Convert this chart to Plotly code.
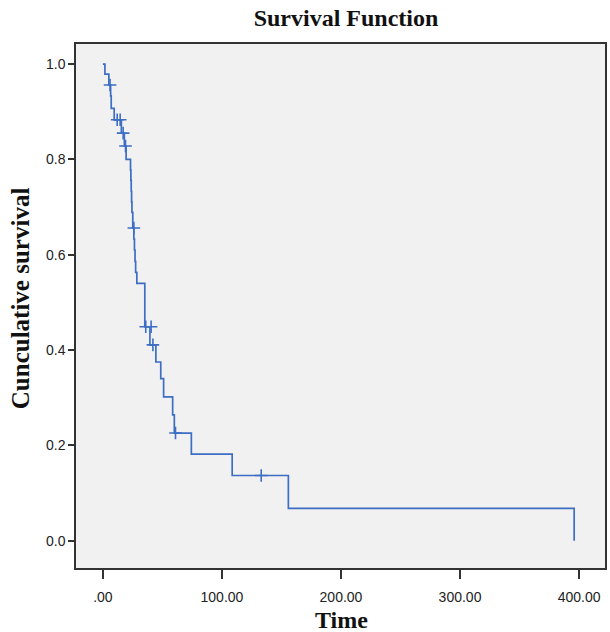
import plotly.graph_objects as go

# Kaplan-Meier step curve (time, survival after step)
step_time = [0, 1.7, 5.0, 6.5, 7.0, 9.5, 15.5, 18.0, 19.5, 23.2, 23.5, 23.8, 24.1, 24.4,
             25.1, 26.0, 26.5, 27.0, 27.5, 28.5, 35.2, 39.5, 44.5, 48.6, 51.0, 58.6, 60.0,
             74.3, 108.6, 155.8, 395.9]
step_surv = [1.0, 0.979, 0.956, 0.933, 0.907, 0.883, 0.855, 0.828, 0.80, 0.778, 0.756, 0.733,
             0.711, 0.689, 0.656, 0.633, 0.610, 0.586, 0.563, 0.540, 0.449, 0.411, 0.375,
             0.340, 0.302, 0.264, 0.226, 0.182, 0.137, 0.068, 0.0]

# Censored observations
cens_time = [6.0, 12.0, 14.5, 17.0, 19.0, 26.0, 36.0, 40.5, 42.0, 61.0, 133.0]
cens_surv = [0.956, 0.883, 0.883, 0.855, 0.828, 0.656, 0.449, 0.449, 0.411, 0.226, 0.137]

x_ticks = [0, 100, 200, 300, 400]
x_labels = [".00", "100.00", "200.00", "300.00", "400.00"]
y_ticks = [0.0, 0.2, 0.4, 0.6, 0.8, 1.0]
y_labels = ["0.0", "0.2", "0.4", "0.6", "0.8", "1.0"]

blue = "#3d6ec4"

fig = go.Figure()
fig.add_trace(go.Scatter(x=step_time, y=step_surv, mode="lines",
                         line=dict(color=blue, width=1.7, shape="hv"),
                         showlegend=False, hoverinfo="skip"))
fig.add_trace(go.Scatter(x=cens_time, y=cens_surv, mode="markers",
                         marker=dict(symbol="cross-thin", size=9,
                                     line=dict(color=blue, width=1.6)),
                         showlegend=False, hoverinfo="skip"))

W, H = 610, 632
L, R, T, B = 76, 3, 44, 64
pw, ph = W - L - R, H - T - B

fig.update_layout(
    width=W, height=H,
    margin=dict(l=L, r=R, t=T, b=B),
    paper_bgcolor="white",
    plot_bgcolor="#f1f1f1",
    title=dict(text="<b>Survival Function</b>", x=346 / W, xanchor="center",
               y=1 - 18 / H, yanchor="middle", yref="container",
               font=dict(family="Liberation Serif", size=24, color="#111")),
    xaxis=dict(range=[-22.6, 421.8], tickvals=x_ticks, ticktext=x_labels,
               showgrid=False, zeroline=False, showline=True, mirror=True,
               linecolor="#333", linewidth=1.5, ticks="outside", ticklen=9,
               tickcolor="#333", tickwidth=1.5, ticklabelstandoff=6,
               tickfont=dict(family="Liberation Sans", size=14, color="#222")),
    yaxis=dict(range=[-0.057, 1.042], tickvals=y_ticks, ticktext=y_labels,
               showgrid=False, zeroline=False, showline=True, mirror=True,
               linecolor="#333", linewidth=1.5, ticks="outside", ticklen=6,
               tickcolor="#333", tickwidth=1.5,
               tickfont=dict(family="Liberation Sans", size=14, color="#222")),
    annotations=[
        dict(text="<b>Time</b>", xref="paper", yref="paper",
             x=(343 - L) / pw, y=-(620 - (H - B)) / ph,
             xanchor="center", yanchor="middle", showarrow=False,
             font=dict(family="Liberation Serif", size=24, color="#111")),
        dict(text="<b>Cunculative survival</b>", xref="paper", yref="paper",
             x=-(L - 20) / pw, y=((H - B) - 298) / ph,
             xanchor="center", yanchor="middle", textangle=-90, showarrow=False,
             font=dict(family="Liberation Serif", size=25, color="#111")),
    ],
)

fig.write_html("out.html", config={"displayModeBar": False},
               post_script="document.body.style.margin='0';")
